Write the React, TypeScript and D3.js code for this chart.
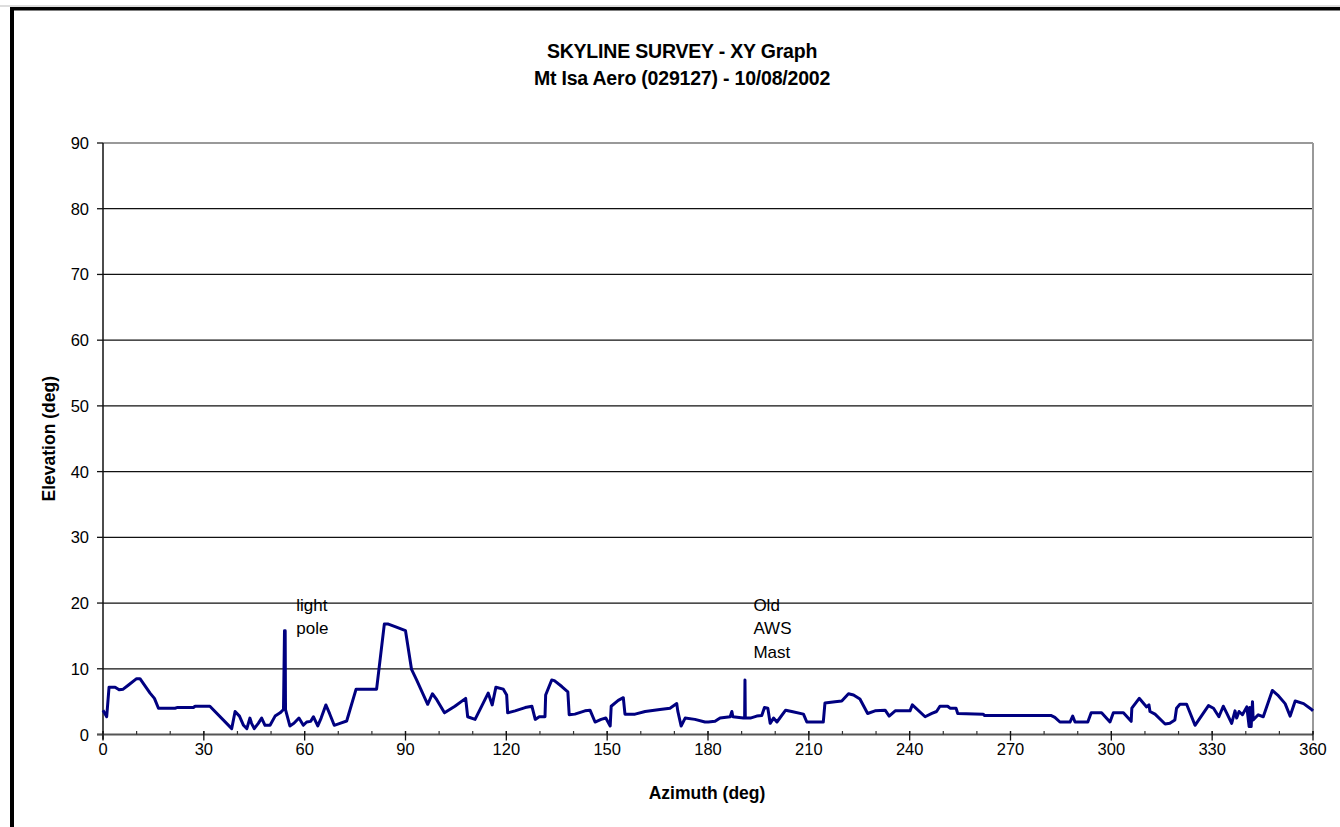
import React from "react";
import * as d3 from "d3";

const azimuth = [0, 1.1, 1.8, 3.6, 4.8, 6.0, 7.5, 10.0, 11, 14, 15.3, 16.5, 21.4, 22, 26.9, 27.4, 31.8, 38.3, 39.3, 40.6, 41.8, 42.8, 43.7, 44.2, 45, 46.2, 47.2, 48.2, 49.7, 51.2, 52.7, 53.7, 54.0, 54.2, 54.3, 55.6, 56.8, 58.3, 59.6, 60.6, 61.8, 62.6, 63.9, 64.9, 66.3, 67.4, 68.8, 70.5, 72.5, 75.3, 81.4, 83.7, 84.9, 86.9, 90.0, 91.8, 93.3, 96.6, 98.0, 99.3, 101.6, 104.7, 107.9, 108.5, 110.7, 114.6, 115.8, 116.9, 119.1, 120.1, 120.4, 122.6, 125.6, 127.6, 128.6, 129.8, 131.5, 131.7, 133.5, 134.3, 136.5, 138.3, 138.7, 140.4, 143.4, 144.9, 146.4, 148.2, 149.6, 150.9, 151.2, 153.3, 154.8, 155.3, 158.3, 161.3, 165.7, 168.7, 170.7, 171.0, 172.0, 173.2, 176.1, 179.1, 180.1, 182.1, 183.6, 186.6, 187.1, 187.4, 190.5, 190.9, 191.0, 191.1, 192.6, 194.5, 196.0, 196.8, 197.8, 198.5, 199.5, 200.5, 203.1, 204.9, 208.4, 209.4, 214.3, 214.8, 217.8, 219.8, 221.8, 223.3, 225.2, 227.5, 229.7, 232.7, 233.9, 235.7, 240.1, 240.8, 244.6, 246.6, 248.0, 249.0, 251.3, 252.0, 253.8, 254.3, 261.9, 262.2, 282.0, 283.2, 284.7, 287.7, 288.5, 289.2, 293.0, 294.0, 296.2, 297.1, 299.6, 300.6, 303.6, 305.9, 306.1, 308.3, 310.5, 311.2, 311.5, 313.0, 316.0, 317.4, 318.9, 319.4, 320.4, 322.4, 324.9, 328.9, 330.4, 332.0, 333.3, 334.3, 335.8, 336.8, 337.3, 338.0, 339.0, 340.3, 341.0, 341.2, 341.6, 342.0, 342.2, 343.7, 345.2, 347.9, 349.5, 351.7, 353.2, 354.7, 357.2, 359.6, 360];
const elevation = [3.7, 2.7, 7.2, 7.2, 6.8, 6.9, 7.5, 8.5, 8.5, 6.3, 5.5, 4.0, 4.0, 4.1, 4.1, 4.3, 4.3, 0.9, 3.5, 2.8, 1.4, 0.9, 2.5, 1.7, 0.9, 1.7, 2.5, 1.4, 1.4, 2.8, 3.3, 3.8, 15.8, 15.8, 3.8, 1.3, 1.7, 2.5, 1.4, 1.9, 2.0, 2.7, 1.3, 2.5, 4.5, 3.2, 1.4, 1.7, 2.05, 6.9, 6.9, 16.8, 16.8, 16.4, 15.8, 9.9, 8.3, 4.6, 6.2, 5.3, 3.3, 4.3, 5.5, 2.7, 2.3, 6.3, 4.5, 7.2, 6.9, 6.0, 3.3, 3.6, 4.1, 4.3, 2.3, 2.7, 2.7, 6.0, 8.3, 8.2, 7.3, 6.5, 3.0, 3.1, 3.6, 3.7, 1.9, 2.3, 2.5, 1.3, 4.3, 5.2, 5.6, 3.1, 3.1, 3.5, 3.8, 4.0, 4.7, 3.6, 1.3, 2.5, 2.3, 1.9, 1.9, 2.0, 2.5, 2.7, 3.5, 2.7, 2.5, 2.5, 8.3, 2.5, 2.5, 2.8, 2.9, 4.1, 4.0, 1.7, 2.5, 1.9, 3.7, 3.5, 3.1, 1.9, 1.9, 4.8, 5.0, 5.1, 6.2, 6.0, 5.4, 3.2, 3.6, 3.7, 2.8, 3.6, 3.6, 4.5, 2.7, 3.2, 3.5, 4.3, 4.3, 4.0, 4.0, 3.2, 3.1, 2.9, 2.9, 2.6, 1.9, 1.9, 2.8, 1.9, 1.9, 3.3, 3.3, 3.3, 1.9, 3.3, 3.3, 2.0, 4.0, 5.5, 4.2, 4.5, 3.5, 3.1, 1.6, 1.7, 2.2, 4.0, 4.6, 4.6, 1.4, 4.4, 4.0, 2.7, 4.3, 3.3, 1.7, 3.6, 2.5, 3.5, 3.0, 4.2, 1.2, 4.1, 1.2, 5.0, 2.2, 3.0, 2.7, 6.7, 6.0, 4.7, 2.8, 5.1, 4.7, 3.8, 3.6];

const xTicks = [0, 30, 60, 90, 120, 150, 180, 210, 240, 270, 300, 330, 360];
const xMinorTicks = d3.range(0, 361, 10);
const yTicks = [0, 10, 20, 30, 40, 50, 60, 70, 80, 90];

const titleLines = ["SKYLINE SURVEY - XY Graph", "Mt Isa Aero (029127) - 10/08/2002"];
const annotations = [
  { az: 57.5, el: 19.0, lines: ["light", "pole"] },
  { az: 193.5, el: 19.0, lines: ["Old", "AWS", "Mast"] },
];

export default function App() {
  const W = 1340, H = 827;
  const left = 103, right = 1313, top = 143, bottom = 734.5;
  const x = d3.scaleLinear().domain([0, 360]).range([left, right]);
  const y = d3.scaleLinear().domain([0, 90]).range([bottom, top]);
  const pts = azimuth.map((a, i) => [a, elevation[i]] as [number, number]);
  const line = d3.line<[number, number]>().x(d => x(d[0])).y(d => y(d[1]));
  const font = "'Liberation Sans', Arial, sans-serif";

  return (
    <div style={{ position: "absolute", left: 0, top: 0 }}>
      <svg width={W} height={H} style={{ display: "block", fontFamily: font }}>
        <rect x={0} y={0} width={W} height={H} fill="#fff" />
        <line x1={0} x2={W} y1={6} y2={6} stroke="#bbb" strokeWidth={1} />
        <rect x={10} y={7} width={W - 10} height={3.5} fill="#000" />
        <rect x={10} y={7} width={4} height={H - 7} fill="#000" />

        {titleLines.map((t, i) => (
          <text key={t} x={682} y={58 + i * 27} textAnchor="middle" fontSize={19.5} fontWeight="bold" fill="#000" transform={`translate(0,0)`} style={{ letterSpacing: "-0.2px" }}>{t}</text>
        ))}

        {/* gridlines */}
        {yTicks.filter(v => v > 0 && v < 90).map(v => (
          <line key={v} x1={left} x2={right} y1={y(v)} y2={y(v)} stroke="#111" strokeWidth={1.3} />
        ))}
        {/* plot border top/right */}
        <line x1={left} x2={right} y1={top} y2={top} stroke="#999" strokeWidth={2} />
        <line x1={right} x2={right} y1={top} y2={bottom} stroke="#999" strokeWidth={2} />

        {/* y axis */}
        <line x1={left} x2={left} y1={top} y2={bottom + 5} stroke="#111" strokeWidth={1.5} />
        {yTicks.map(v => (
          <g key={v}>
            <line x1={left - 6} x2={left} y1={y(v)} y2={y(v)} stroke="#111" strokeWidth={1.3} />
            <text x={89} y={y(v) + 6} textAnchor="end" fontSize={16.5} fill="#000">{v}</text>
          </g>
        ))}

        {/* x axis */}
        <line x1={left - 6} x2={right} y1={bottom} y2={bottom} stroke="#555" strokeWidth={2} />
        {xMinorTicks.map(v => (
          <line key={"m" + v} x1={x(v)} x2={x(v)} y1={bottom - 3.5} y2={bottom} stroke="#333" strokeWidth={1.2} />
        ))}
        {xTicks.map(v => (
          <g key={v}>
            <line x1={x(v)} x2={x(v)} y1={bottom - 3.5} y2={bottom + 6} stroke="#111" strokeWidth={1.3} />
            <text x={x(v)} y={bottom + 20} textAnchor="middle" fontSize={16.5} fill="#000">{v}</text>
          </g>
        ))}

        <text x={707} y={799} textAnchor="middle" fontSize={17.5} fontWeight="bold" fill="#000">Azimuth (deg)</text>
        <text transform={`translate(55, ${y(45)}) rotate(-90)`} textAnchor="middle" fontSize={17.5} fontWeight="bold" fill="#000">Elevation (deg)</text>

        {annotations.map(a => (
          <g key={a.lines[0]}>
            {a.lines.map((l, i) => (
              <text key={l} x={x(a.az)} y={y(a.el) + 1 + i * 23.5} fontSize={17} fill="#000">{l}</text>
            ))}
          </g>
        ))}

        <path d={line(pts) ?? ""} fill="none" stroke="#000080" strokeWidth={3} strokeLinejoin="round" />
      </svg>
    </div>
  );
}
